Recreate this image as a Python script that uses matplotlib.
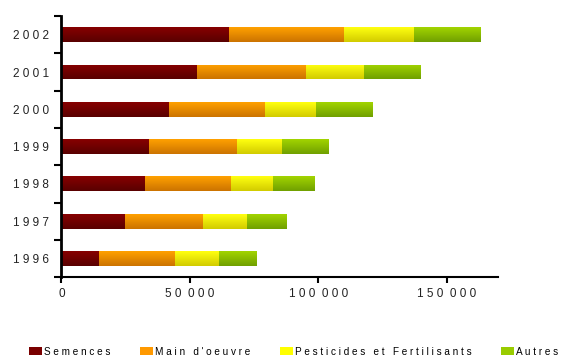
import numpy as np
import matplotlib
matplotlib.use("Agg")
import matplotlib.pyplot as plt
from matplotlib.ticker import FixedLocator
from matplotlib.colors import LinearSegmentedColormap

plt.rcParams['font.family'] = ['Liberation Sans', 'DejaVu Sans']

years = ['1996', '1997', '1998', '1999', '2000', '2001', '2002']
semences = [14600, 24700, 32500, 34100, 41900, 52800, 65300]
main_oeuvre = [29600, 30400, 33600, 34300, 37400, 42500, 44800]
pesticides = [17200, 17200, 16300, 17500, 19900, 22600, 27300]
autres = [14400, 15200, 16000, 18000, 21800, 21800, 25700]

series = [semences, main_oeuvre, pesticides, autres]
noms = ['Semences', "Main d'oeuvre", 'Pesticides et Fertilisants', 'Autres']
# couleur haut / bas du degrade
haut = ['#860000', '#ffa000', '#ffff10', '#a2d400']
bas = ['#5a0000', '#cc7400', '#d2cc00', '#70a000']
legende = ['#7a0000', '#ff9900', '#ffff00', '#99cc00']


def espacer(s):
    # texte avec espacement des lettres comme dans l'original
    return ' '.join(s)


fig = plt.figure(figsize=(5.63, 3.58), dpi=100)
ax = fig.add_axes([0.109, 0.226, 0.776, 0.729])

y = np.arange(len(years))
gauche = np.zeros(len(years))
grad = np.linspace(0, 1, 32).reshape(-1, 1)
for vals, nom, h, b, lc in zip(series, noms, haut, bas, legende):
    barres = ax.barh(y, vals, left=gauche, height=0.4, color=lc, label=espacer(nom))
    cmap = LinearSegmentedColormap.from_list(nom, [b, h])
    for r in barres:
        x0, y0 = r.get_x(), r.get_y()
        im = ax.imshow(grad, cmap=cmap, aspect='auto', origin='lower',
                       extent=(x0, x0 + r.get_width(), y0, y0 + r.get_height()), zorder=2)
        im.set_clip_path(r)
    gauche += np.array(vals)

ax.set_xlim(0, 170000)
ax.set_ylim(-0.5, len(years) - 0.5)
ax.set_yticks(y)
ax.set_yticklabels([espacer(a) for a in years], fontsize=8.5, color='#222222')
ax.yaxis.set_minor_locator(FixedLocator(np.arange(-0.5, len(years), 1.0)))
ax.tick_params(axis='y', which='major', length=0, pad=9)
ax.tick_params(axis='y', which='minor', length=5, width=1.5, direction='out')

xt = [0, 50000, 100000, 150000]
ax.set_xticks(xt)
ax.set_xticklabels(['0', '5 0  0 0 0', '1 0 0  0 0 0', '1 5 0  0 0 0'], fontsize=8.5, color='#222222')
ax.tick_params(axis='x', length=4, width=1.5, direction='out', pad=4)

for s in ['top', 'right']:
    ax.spines[s].set_visible(False)
ax.spines['left'].set_linewidth(2)
ax.spines['bottom'].set_linewidth(1.5)
ax.spines['left'].set_zorder(5)

fig.legend(loc='center left', bbox_to_anchor=(0.0515, 0.018), ncol=4, frameon=False,
           fontsize=7.2, handlelength=1.3, handleheight=0.9, handletextpad=0.2,
           columnspacing=2.95, borderpad=0, borderaxespad=0)

fig.savefig('out.png', dpi=100)
